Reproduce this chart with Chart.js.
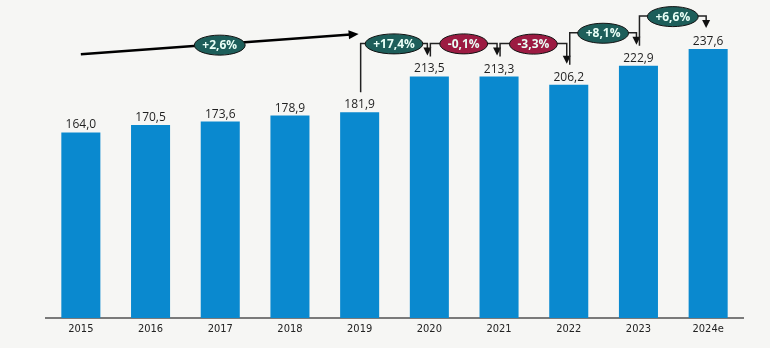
<!DOCTYPE html>
<html>
<head>
<meta charset="utf-8">
<script src="https://cdn.jsdelivr.net/npm/chart.js@4/dist/chart.umd.min.js"></script>
<style>
  html, body { margin: 0; padding: 0; background: #f6f6f4; }
  #wrap { width: 770px; height: 348px; }
</style>
</head>
<body>
<div id="wrap"><canvas id="bar_chart" width="770" height="348"></canvas></div>
<script>
var years = ['2015', '2016', '2017', '2018', '2019', '2020', '2021', '2022', '2023', '2024e'];
var values = [164.0, 170.5, 173.6, 178.9, 181.9, 213.5, 213.3, 206.2, 222.9, 237.6];

// year-on-year changes, from 2019->2020 onwards
var changeFrom = [4, 5, 6, 7, 8];
var changeLabels = ['+17,4%', '-0,1%', '-3,3%', '+8,1%', '+6,6%'];

// average growth 2015 -> 2019
var cagrLabel = '+2,6%';
var cagrStart = { index: 0, value: 233 };
var cagrEnd = { index: 4, value: 251 };

var BAR = '#0a89cf';
var TEAL = '#1d5e5a';
var RED = '#9c1b42';
var INK = '#1f1f1f';

function fmt(v) {
    return v.toFixed(1).replace('.', ',');
}

function arrowDown(ctx, x, y) {
    ctx.beginPath();
    ctx.moveTo(x - 4, y - 8);
    ctx.lineTo(x + 4, y - 8);
    ctx.lineTo(x, y);
    ctx.closePath();
    ctx.fill();
}

function badge(ctx, x, y, text, fill) {
    ctx.font = 'bold 12px "Open Sans", sans-serif';
    var w = ctx.measureText(text).width;
    ctx.beginPath();
    ctx.ellipse(x, y, w / 2 + 8, 10, 0, 0, Math.PI * 2);
    ctx.fillStyle = fill;
    ctx.fill();
    ctx.lineWidth = 1;
    ctx.strokeStyle = '#111';
    ctx.stroke();
    ctx.fillStyle = '#eafff7';
    ctx.textAlign = 'center';
    ctx.textBaseline = 'middle';
    ctx.fillText(text, x, y + 0.5);
}

var annotations = {
    id: 'annotations',
    afterDatasetsDraw: function (chart) {
        var ctx = chart.ctx;
        var bars = chart.getDatasetMeta(0).data;
        var ys = chart.scales.y;
        ctx.save();

        // value labels
        ctx.font = '12px "Open Sans", sans-serif';
        ctx.fillStyle = INK;
        ctx.textAlign = 'center';
        ctx.textBaseline = 'alphabetic';
        for (var i = 0; i < bars.length; i++) {
            ctx.fillText(fmt(values[i]), bars[i].x, bars[i].y - 4);
        }

        // cagr arrow
        var x0 = bars[cagrStart.index].x, y0 = ys.getPixelForValue(cagrStart.value);
        var x1 = bars[cagrEnd.index].x - 1, y1 = ys.getPixelForValue(cagrEnd.value);
        ctx.strokeStyle = '#000';
        ctx.fillStyle = '#000';
        ctx.lineWidth = 2.5;
        var ang = Math.atan2(y1 - y0, x1 - x0);
        ctx.beginPath();
        ctx.moveTo(x0, y0);
        ctx.lineTo(x1 - 8 * Math.cos(ang), y1 - 8 * Math.sin(ang));
        ctx.stroke();
        ctx.beginPath();
        ctx.moveTo(x1, y1);
        ctx.lineTo(x1 - 10 * Math.cos(ang) + 4.5 * Math.sin(ang), y1 - 10 * Math.sin(ang) - 4.5 * Math.cos(ang));
        ctx.lineTo(x1 - 10 * Math.cos(ang) - 4.5 * Math.sin(ang), y1 - 10 * Math.sin(ang) + 4.5 * Math.cos(ang));
        ctx.closePath();
        ctx.fill();
        badge(ctx, (x0 + x1) / 2, (y0 + y1) / 2 + 1, cagrLabel, TEAL);

        // elbow arrows
        for (var k = 0; k < changeFrom.length; k++) {
            var a = bars[changeFrom[k]], b = bars[changeFrom[k] + 1];
            var sx = a.x + 1, sy = a.y - 20;
            var ex = b.x - 2, ey = b.y - 21;
            var ly = Math.min(a.y, b.y) - 33;
            ctx.strokeStyle = '#222';
            ctx.fillStyle = '#111';
            ctx.lineWidth = 1.5;
            ctx.beginPath();
            ctx.moveTo(sx, sy);
            ctx.lineTo(sx, ly);
            ctx.lineTo(ex, ly);
            ctx.lineTo(ex, ey - 6);
            ctx.stroke();
            arrowDown(ctx, ex, ey);
            var neg = changeLabels[k].charAt(0) === '-';
            badge(ctx, (sx + ex) / 2, ly + 0.5, changeLabels[k], neg ? RED : TEAL);
        }
        ctx.restore();
    }
};

new Chart(document.getElementById('bar_chart').getContext('2d'), {
    type: 'bar',
    data: {
        labels: years,
        datasets: [{
            data: values,
            backgroundColor: BAR,
            borderWidth: 0,
            categoryPercentage: 1,
            barPercentage: 0.56
        }]
    },
    options: {
        responsive: false,
        animation: false,
        layout: { padding: { left: 46, right: 27, top: 0, bottom: 0 } },
        plugins: { legend: { display: false }, tooltip: { enabled: false } },
        scales: {
            x: {
                grid: { display: false, drawTicks: false },
                border: { display: true, color: '#7a7a7a', width: 2 },
                ticks: {
                    color: '#222',
                    padding: 5,
                    font: { family: '"DejaVu Sans Condensed", "Open Sans", sans-serif', size: 11 }
                },
                afterFit: function (scale) { scale.height = 30; }
            },
            y: {
                display: false,
                min: 0,
                max: 281
            }
        }
    },
    plugins: [annotations]
});
</script>
</body>
</html>
